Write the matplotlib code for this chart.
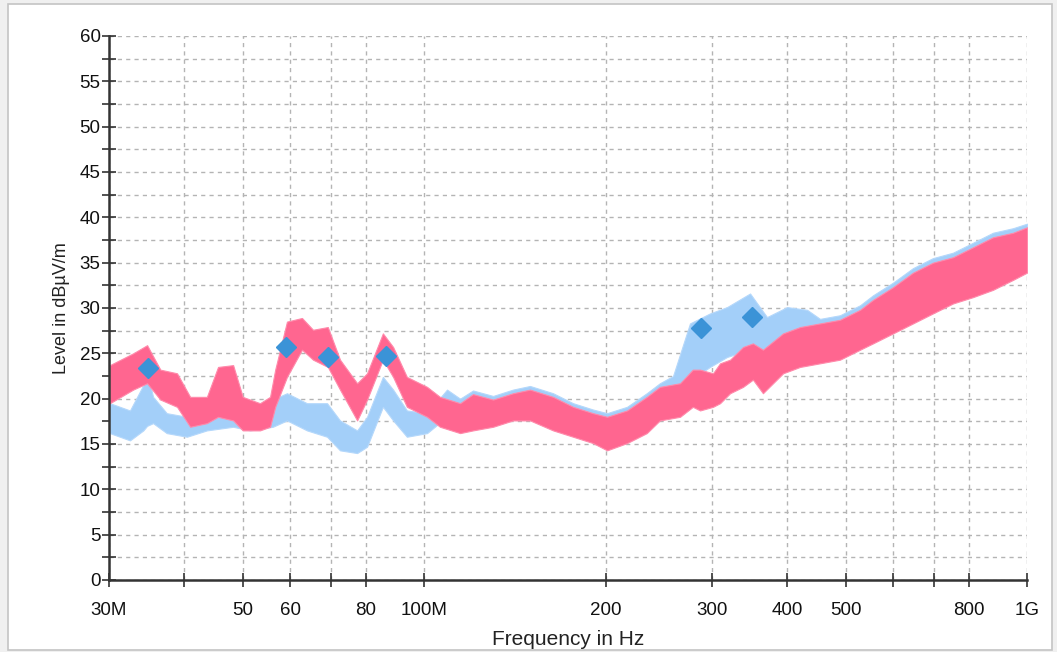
import matplotlib
matplotlib.use("Agg")
import matplotlib.pyplot as plt
from matplotlib.patches import Rectangle
from matplotlib.ticker import FixedLocator, MultipleLocator, NullFormatter

# ---------------- data (MHz, dBuV/m) ----------------
red_freq = [30.1, 32.9, 34.7, 36.5, 38.9, 40.9, 43.6, 45.5, 48.2, 50.0, 53.4, 55.5,
            56.6, 59.2, 62.7, 65.4, 69.2, 72.5, 77.4, 80.4, 85.4, 88.8, 93.6, 101.1,
            106.2, 114.7, 120.5, 130.1, 140.4, 149.8, 163.6, 176.6, 190.6, 201.1, 217,
            234, 246, 265.7, 279, 286.8, 301.4, 309.6, 321.7, 338, 351, 364.7, 393.9,
            420.3, 453.6, 489.5, 528.5, 555.4, 599.5, 647, 698, 753.8, 813.8, 878, 948, 1000]
red_hi = [23.7, 25.0, 25.9, 23.2, 22.8, 20.2, 20.2, 23.5, 23.7, 20.2, 19.5, 20.2,
          23.2, 28.5, 28.9, 27.6, 27.9, 24.3, 21.7, 22.8, 27.2, 25.7, 22.4, 21.3,
          20.2, 19.5, 20.5, 19.9, 20.6, 21.0, 20.2, 19.1, 18.4, 18.0, 18.7,
          20.2, 21.3, 21.7, 23.2, 23.2, 22.8, 23.9, 24.3, 25.7, 26.1, 25.4, 27.2,
          27.9, 28.3, 28.7, 29.8, 30.9, 32.3, 33.9, 35.0, 35.6, 36.7, 37.8, 38.3, 38.9]
red_lo = [19.5, 21.0, 21.7, 19.9, 19.1, 16.9, 17.3, 18.0, 17.6, 16.5, 16.5, 16.9,
          19.1, 22.4, 25.4, 24.3, 23.5, 21.0, 17.6, 19.9, 24.3, 22.4, 19.1, 18.0,
          16.9, 16.2, 16.5, 16.9, 17.6, 17.6, 16.5, 15.8, 15.1, 14.3, 15.1,
          16.2, 17.6, 18.0, 19.1, 18.7, 19.1, 19.5, 20.6, 21.3, 22.1, 20.6, 22.8,
          23.5, 23.9, 24.3, 25.4, 26.1, 27.2, 28.3, 29.4, 30.5, 31.2, 32.0, 33.1, 33.9]

blue_freq = [30.1, 32.5, 34.2, 34.7, 35.5, 37.4, 40.4, 43.6, 48.2, 51.4, 56.1, 59.2,
             63.9, 69.0, 72.5, 77.4, 80.4, 85.4, 88.8, 93.6, 101.1, 109.1, 114.7, 120.5,
             130.1, 140.4, 149.8, 163.6, 176.6, 190.6, 201.1, 217, 234, 246, 258.7, 276,
             297.9, 318, 347.2, 370.4, 400, 431.7, 453.6, 489.5, 528.5, 555.4, 599.5, 647,
             698, 753.8, 813.8, 878, 948, 1000]
blue_hi = [19.5, 18.7, 21.5, 23.0, 20.2, 18.4, 18.0, 18.7, 19.5, 18.4, 19.9, 20.6,
           19.5, 19.5, 17.6, 16.5, 18.0, 22.4, 21.0, 18.7, 18.4, 21.0, 20.0, 20.9,
           20.3, 21.0, 21.4, 20.6, 19.5, 18.8, 18.4, 19.1, 20.6, 21.7, 22.5, 28.3,
           29.4, 30.1, 31.6, 29.0, 30.1, 29.8, 28.8, 29.2, 30.3, 31.4, 32.8, 34.4,
           35.5, 36.1, 37.2, 38.3, 38.8, 39.3]
blue_lo = [16.2, 15.4, 16.5, 17.0, 17.3, 16.2, 15.8, 16.5, 16.9, 16.5, 16.9, 17.6,
           16.5, 15.8, 14.3, 14.0, 14.7, 19.1, 17.6, 15.8, 16.2, 18.0, 16.5, 16.8,
           17.2, 17.9, 17.9, 16.8, 16.1, 15.4, 14.6, 15.4, 16.5, 17.9, 18.5, 22.0,
           23.5, 24.6, 25.4, 24.5, 24.8, 25.0, 24.5, 24.8, 25.9, 26.6, 27.7, 28.8,
           29.9, 31.0, 31.7, 32.5, 33.6, 34.4]

peak_freq = [34.8, 59.0, 69.2, 86.4, 287.9, 349.8]
peak_level = [23.4, 25.7, 24.6, 24.7, 27.8, 29.0]

xtick_vals = [30, 40, 50, 60, 70, 80, 100, 200, 300, 400, 500, 600, 700, 800, 1000]
xtick_labels = ["30M", "", "50", "60", "", "80", "100M", "200", "300", "400", "500",
                "", "", "800", "1G"]

# ---------------- figure ----------------
plt.rcParams['font.family'] = ['Liberation Sans', 'DejaVu Sans']
W, H = 1057, 652
fig = plt.figure(figsize=(W / 100, H / 100), dpi=100, facecolor='#f0f0f0')
fig.patches.append(Rectangle((8 / W, 2 / H), (1052 - 8) / W, (648 - 2) / H,
                             transform=fig.transFigure, facecolor='white',
                             edgecolor='#c4c4c4', linewidth=1.2, zorder=-5))

ax = fig.add_axes([109 / W, 72 / H, (1027 - 109) / W, (580 - 36) / H])
ax.set_zorder(2)
ax.set_facecolor('none')
ax.set_xscale('log')
ax.set_xlim(30, 1000)
ax.set_ylim(0, 60)

ax.fill_between(blue_freq, blue_lo, blue_hi, color='#a3cff9', linewidth=0.8,
                edgecolor='#b5d8fb', zorder=2)
ax.fill_between(red_freq, red_lo, red_hi, color='#ff6690', linewidth=0.8,
                edgecolor='#ff8aab', zorder=3)
ax.plot(peak_freq, peak_level, linestyle='none', marker='D', markersize=10.5,
        color='#3b93d7', markeredgecolor='#3b93d7', zorder=5)

# ticks
ax.xaxis.set_major_locator(FixedLocator(xtick_vals))
ax.xaxis.set_minor_locator(FixedLocator([]))
ax.xaxis.set_minor_formatter(NullFormatter())
ax.set_xticks(xtick_vals)
ax.set_xticklabels(xtick_labels)
ax.yaxis.set_major_locator(MultipleLocator(5))
ax.yaxis.set_minor_locator(MultipleLocator(2.5))
ax.tick_params(axis='both', which='both', direction='inout', length=10, width=1.1,
               color='#222222', labelsize=13.5, labelcolor='#111111')
ax.tick_params(axis='x', pad=11)
ax.tick_params(axis='y', pad=1)

# grid
ax.grid(True, which='major', axis='x', color='#b4b4b4', linestyle=(0, (3, 3)), linewidth=1)
ax.grid(True, which='both', axis='y', color='#b4b4b4', linestyle=(0, (3, 3)), linewidth=1)
ax.set_axisbelow(True)

for s in ['top', 'right']:
    ax.spines[s].set_visible(False)
for s in ['left', 'bottom']:
    ax.spines[s].set_color('#333333')
    ax.spines[s].set_linewidth(1.8)
    ax.spines[s].set_zorder(6)

ax.set_xlabel('Frequency in Hz', fontsize=15, color='#222222', labelpad=8)
ax.set_ylabel('Level in dBµV/m', fontsize=13, color='#222222', labelpad=7)

fig.savefig('out.png', dpi=100, facecolor=fig.get_facecolor())
